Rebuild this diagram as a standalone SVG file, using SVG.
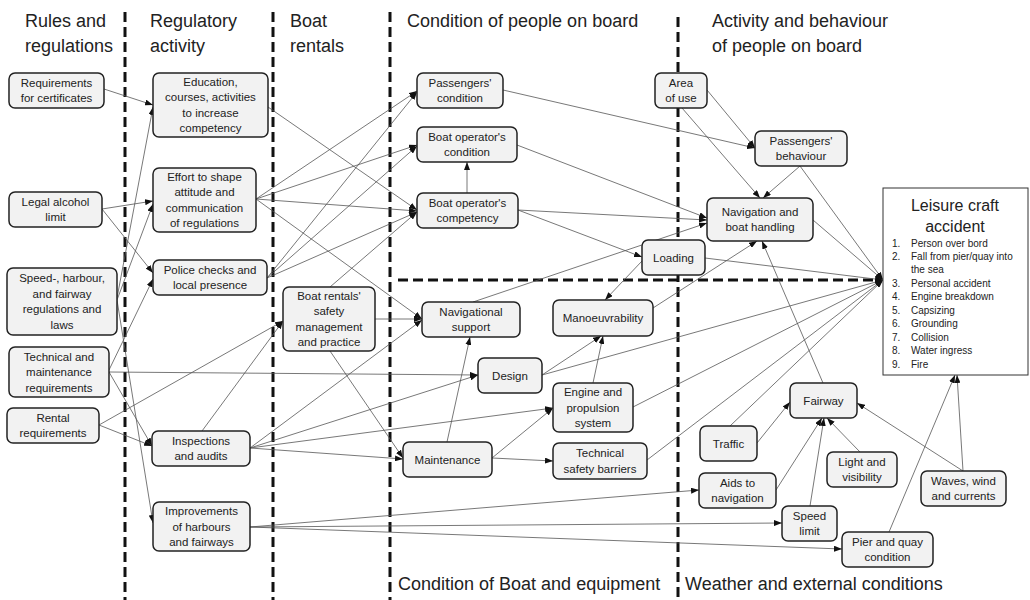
<svg xmlns="http://www.w3.org/2000/svg" width="1030" height="600" viewBox="0 0 1030 600">
<style>
.hdr{font-family:"Liberation Sans",Arial,sans-serif;font-size:18px;fill:#222}
.nt{font-family:"Liberation Sans",Arial,sans-serif;font-size:11.5px;fill:#222;text-anchor:middle}
.box{fill:#f2f2f2;stroke:#222;stroke-width:1.5}
.sep{stroke:#111;stroke-width:3;stroke-dasharray:10 5;fill:none}
.e{stroke:#555;stroke-width:0.8;fill:none;marker-end:url(#ah)}
.acc{font-family:"Liberation Sans",Arial,sans-serif;fill:#222}
</style>
<defs>
<marker id="ah" markerUnits="userSpaceOnUse" markerWidth="8" markerHeight="6" refX="8" refY="3" orient="auto">
<path d="M0,0 L8,3 L0,6 z" fill="#111"/>
</marker>
</defs>
<rect width="1030" height="600" fill="#fff"/>

<g id="separators">
<line class="sep" x1="125" y1="12" x2="125" y2="600"/>
<line class="sep" x1="273" y1="12" x2="273" y2="600"/>
<line class="sep" x1="390" y1="12" x2="390" y2="600"/>
<line class="sep" x1="678" y1="17" x2="678" y2="600"/>
<line class="sep" x1="398" y1="280" x2="880" y2="280"/>
</g>

<g id="headers">
<text class="hdr" x="25" y="27">Rules and</text>
<text class="hdr" x="25" y="52">regulations</text>
<text class="hdr" x="150" y="27">Regulatory</text>
<text class="hdr" x="150" y="52">activity</text>
<text class="hdr" x="290" y="27">Boat</text>
<text class="hdr" x="290" y="52">rentals</text>
<text class="hdr" x="407" y="27">Condition of people on board</text>
<text class="hdr" x="712" y="27">Activity and behaviour</text>
<text class="hdr" x="712" y="52">of people on board</text>
<text class="hdr" x="398" y="590">Condition of Boat and equipment</text>
<text class="hdr" x="685" y="590">Weather and external conditions</text>
</g>

<g id="connectors">
<line class="e" x1="104" y1="89" x2="153" y2="105"/>
<line class="e" x1="102" y1="209" x2="153" y2="201"/>
<line class="e" x1="102" y1="209" x2="153" y2="273"/>
<line class="e" x1="117" y1="298" x2="153" y2="107"/>
<line class="e" x1="117" y1="300" x2="153" y2="204"/>
<line class="e" x1="117" y1="300" x2="153" y2="523"/>
<line class="e" x1="109" y1="370" x2="153" y2="279"/>
<line class="e" x1="109" y1="372" x2="152" y2="446"/>
<line class="e" x1="109" y1="372" x2="478" y2="375"/>
<line class="e" x1="99" y1="425" x2="283" y2="321"/>
<line class="e" x1="99" y1="425" x2="152" y2="446"/>
<line class="e" x1="268" y1="107" x2="417" y2="210"/>
<line class="e" x1="256" y1="199" x2="417" y2="91"/>
<line class="e" x1="256" y1="199" x2="417" y2="145"/>
<line class="e" x1="256" y1="199" x2="417" y2="211"/>
<line class="e" x1="256" y1="199" x2="422" y2="319"/>
<line class="e" x1="267" y1="278" x2="417" y2="92"/>
<line class="e" x1="267" y1="278" x2="417" y2="146"/>
<line class="e" x1="267" y1="278" x2="417" y2="212"/>
<line class="e" x1="330" y1="287" x2="417" y2="212"/>
<line class="e" x1="375" y1="319" x2="422" y2="319"/>
<line class="e" x1="330" y1="351" x2="403" y2="458"/>
<line class="e" x1="202" y1="431" x2="283" y2="321"/>
<line class="e" x1="250" y1="448" x2="422" y2="320"/>
<line class="e" x1="250" y1="448" x2="478" y2="375"/>
<line class="e" x1="250" y1="448" x2="553" y2="408"/>
<line class="e" x1="250" y1="448" x2="403" y2="459"/>
<line class="e" x1="250" y1="527" x2="699" y2="490"/>
<line class="e" x1="250" y1="527" x2="782" y2="523"/>
<line class="e" x1="250" y1="527" x2="842" y2="549"/>
<line class="e" x1="467" y1="193" x2="467" y2="162"/>
<line class="e" x1="503" y1="90" x2="755" y2="148"/>
<line class="e" x1="517" y1="145" x2="707" y2="218"/>
<line class="e" x1="518" y1="210" x2="707" y2="220"/>
<line class="e" x1="518" y1="210" x2="642" y2="257"/>
<line class="e" x1="473" y1="302" x2="707" y2="223"/>
<line class="e" x1="642" y1="261" x2="605" y2="300"/>
<line class="e" x1="705" y1="258" x2="883" y2="280"/>
<line class="e" x1="707" y1="90" x2="755" y2="148"/>
<line class="e" x1="682" y1="108" x2="760" y2="198"/>
<line class="e" x1="800" y1="166" x2="763" y2="198"/>
<line class="e" x1="800" y1="166" x2="883" y2="280"/>
<line class="e" x1="813" y1="220" x2="883" y2="280"/>
<line class="e" x1="653" y1="308" x2="757" y2="241"/>
<line class="e" x1="542" y1="375" x2="601" y2="336"/>
<line class="e" x1="593" y1="383" x2="603" y2="336"/>
<line class="e" x1="542" y1="375" x2="883" y2="280"/>
<line class="e" x1="633" y1="407" x2="883" y2="280"/>
<line class="e" x1="647" y1="460" x2="883" y2="280"/>
<line class="e" x1="447" y1="442" x2="470" y2="337"/>
<line class="e" x1="492" y1="458" x2="553" y2="408"/>
<line class="e" x1="492" y1="458" x2="553" y2="461"/>
<line class="e" x1="730" y1="426" x2="883" y2="280"/>
<line class="e" x1="757" y1="443" x2="790" y2="402"/>
<line class="e" x1="823" y1="383" x2="762" y2="241"/>
<line class="e" x1="776" y1="490" x2="822" y2="418"/>
<line class="e" x1="810" y1="506" x2="824" y2="418"/>
<line class="e" x1="860" y1="452" x2="827" y2="418"/>
<line class="e" x1="963" y1="471" x2="857" y2="403"/>
<line class="e" x1="963" y1="471" x2="957" y2="375"/>
<line class="e" x1="889" y1="532" x2="955" y2="375"/>
</g>

<g id="req_cert"><rect class="box" x="9" y="73" width="95" height="35" rx="6"/><text class="nt" x="56.5" y="86.7">Requirements</text><text class="nt" x="56.5" y="102.2">for certificates</text></g>
<g id="legal_alcohol"><rect class="box" x="9" y="192" width="93" height="35" rx="6"/><text class="nt" x="55.5" y="205.7">Legal alcohol</text><text class="nt" x="55.5" y="221.2">limit</text></g>
<g id="speed_regs"><rect class="box" x="7" y="268" width="110" height="67" rx="6"/><text class="nt" x="62" y="282">Speed-, harbour,</text><text class="nt" x="62" y="297.5">and fairway</text><text class="nt" x="62" y="313">regulations and</text><text class="nt" x="62" y="328.5">laws</text></g>
<g id="tech_req"><rect class="box" x="9" y="347" width="100" height="50" rx="6"/><text class="nt" x="59" y="360.5">Technical and</text><text class="nt" x="59" y="376">maintenance</text><text class="nt" x="59" y="391.5">requirements</text></g>
<g id="rental_req"><rect class="box" x="7" y="408" width="92" height="35" rx="6"/><text class="nt" x="53" y="421.7">Rental</text><text class="nt" x="53" y="437.2">requirements</text></g>

<g id="education"><rect class="box" x="153" y="73" width="115" height="64" rx="6"/><text class="nt" x="210.5" y="85.7">Education,</text><text class="nt" x="210.5" y="101.2">courses, activities</text><text class="nt" x="210.5" y="116.7">to increase</text><text class="nt" x="210.5" y="132.2">competency</text></g>
<g id="effort"><rect class="box" x="153" y="168" width="103" height="64" rx="6"/><text class="nt" x="204.5" y="180.7">Effort to shape</text><text class="nt" x="204.5" y="196.2">attitude and</text><text class="nt" x="204.5" y="211.7">communication</text><text class="nt" x="204.5" y="227.2">of regulations</text></g>
<g id="police"><rect class="box" x="153" y="260" width="114" height="35" rx="6"/><text class="nt" x="210" y="273.7">Police checks and</text><text class="nt" x="210" y="289.2">local presence</text></g>
<g id="inspections"><rect class="box" x="152" y="431" width="98" height="35" rx="6"/><text class="nt" x="201" y="444.7">Inspections</text><text class="nt" x="201" y="460.2">and audits</text></g>
<g id="improvements"><rect class="box" x="153" y="502" width="97" height="49" rx="6"/><text class="nt" x="201.5" y="515">Improvements</text><text class="nt" x="201.5" y="530.5">of harbours</text><text class="nt" x="201.5" y="546">and fairways</text></g>

<g id="boat_rentals"><rect class="box" x="283" y="287" width="92" height="64" rx="6"/><text class="nt" x="329" y="299.7">Boat rentals'</text><text class="nt" x="329" y="315.2">safety</text><text class="nt" x="329" y="330.7">management</text><text class="nt" x="329" y="346.2">and practice</text></g>

<g id="pass_cond"><rect class="box" x="417" y="73" width="86" height="35" rx="6"/><text class="nt" x="460" y="86.7">Passengers'</text><text class="nt" x="460" y="102.2">condition</text></g>
<g id="op_cond"><rect class="box" x="417" y="127" width="100" height="35" rx="6"/><text class="nt" x="467" y="140.7">Boat operator's</text><text class="nt" x="467" y="156.2">condition</text></g>
<g id="op_comp"><rect class="box" x="417" y="193" width="101" height="35" rx="6"/><text class="nt" x="467.5" y="206.7">Boat operator's</text><text class="nt" x="467.5" y="222.2">competency</text></g>
<g id="loading"><rect class="box" x="642" y="240" width="63" height="35" rx="6"/><text class="nt" x="673.5" y="261.5">Loading</text></g>

<g id="nav_support"><rect class="box" x="422" y="302" width="98" height="35" rx="6"/><text class="nt" x="471" y="315.7">Navigational</text><text class="nt" x="471" y="331.2">support</text></g>
<g id="manoeuvrability"><rect class="box" x="553" y="300" width="100" height="36" rx="6"/><text class="nt" x="603" y="322">Manoeuvrability</text></g>
<g id="design"><rect class="box" x="478" y="358" width="64" height="35" rx="6"/><text class="nt" x="510" y="379.5">Design</text></g>
<g id="engine"><rect class="box" x="553" y="383" width="80" height="49" rx="6"/><text class="nt" x="593" y="396">Engine and</text><text class="nt" x="593" y="411.5">propulsion</text><text class="nt" x="593" y="427">system</text></g>
<g id="maintenance"><rect class="box" x="403" y="442" width="89" height="35" rx="6"/><text class="nt" x="447.5" y="463.5">Maintenance</text></g>
<g id="tech_barriers"><rect class="box" x="553" y="443" width="94" height="36" rx="6"/><text class="nt" x="600" y="457.2">Technical</text><text class="nt" x="600" y="472.7">safety barriers</text></g>

<g id="area_use"><rect class="box" x="655" y="73" width="52" height="35" rx="6"/><text class="nt" x="681" y="86.7">Area</text><text class="nt" x="681" y="102.2">of use</text></g>
<g id="pass_beh"><rect class="box" x="755" y="131" width="92" height="35" rx="6"/><text class="nt" x="801" y="144.7">Passengers'</text><text class="nt" x="801" y="160.2">behaviour</text></g>
<g id="nav_handling"><rect class="box" x="707" y="198" width="106" height="43" rx="6"/><text class="nt" x="760" y="215.7">Navigation and</text><text class="nt" x="760" y="231.2">boat handling</text></g>

<g id="fairway"><rect class="box" x="790" y="383" width="67" height="35" rx="6"/><text class="nt" x="823.5" y="404.5">Fairway</text></g>
<g id="traffic"><rect class="box" x="700" y="426" width="57" height="35" rx="6"/><text class="nt" x="728.5" y="447.5">Traffic</text></g>
<g id="light"><rect class="box" x="827" y="452" width="70" height="35" rx="6"/><text class="nt" x="862" y="465.7">Light and</text><text class="nt" x="862" y="481.2">visibility</text></g>
<g id="aids"><rect class="box" x="699" y="473" width="77" height="35" rx="6"/><text class="nt" x="737.5" y="486.7">Aids to</text><text class="nt" x="737.5" y="502.2">navigation</text></g>
<g id="waves"><rect class="box" x="921" y="471" width="85" height="35" rx="6"/><text class="nt" x="963.5" y="484.7">Waves, wind</text><text class="nt" x="963.5" y="500.2">and currents</text></g>
<g id="speed_limit"><rect class="box" x="782" y="506" width="55" height="35" rx="6"/><text class="nt" x="809.5" y="519.7">Speed</text><text class="nt" x="809.5" y="535.2">limit</text></g>
<g id="pier"><rect class="box" x="842" y="532" width="91" height="35" rx="6"/><text class="nt" x="887.5" y="545.7">Pier and quay</text><text class="nt" x="887.5" y="561.2">condition</text></g>

<g id="accident">
<rect x="883" y="188" width="145" height="187" fill="#fff" stroke="#333" stroke-width="1"/>
<text class="acc" x="955" y="211" font-size="16" text-anchor="middle">Leisure craft</text>
<text class="acc" x="955" y="232" font-size="16" text-anchor="middle">accident</text>
<g class="acc" font-size="10">
<text x="892" y="247">1.</text><text x="911" y="247">Person over bord</text>
<text x="892" y="260">2.</text><text x="911" y="260">Fall from pier/quay into</text>
<text x="911" y="273">the sea</text>
<text x="892" y="287">3.</text><text x="911" y="287">Personal accident</text>
<text x="892" y="300">4.</text><text x="911" y="300">Engine breakdown</text>
<text x="892" y="314">5.</text><text x="911" y="314">Capsizing</text>
<text x="892" y="327">6.</text><text x="911" y="327">Grounding</text>
<text x="892" y="341">7.</text><text x="911" y="341">Collision</text>
<text x="892" y="354">8.</text><text x="911" y="354">Water ingress</text>
<text x="892" y="368">9.</text><text x="911" y="368">Fire</text>
</g>
</g>
</svg>
